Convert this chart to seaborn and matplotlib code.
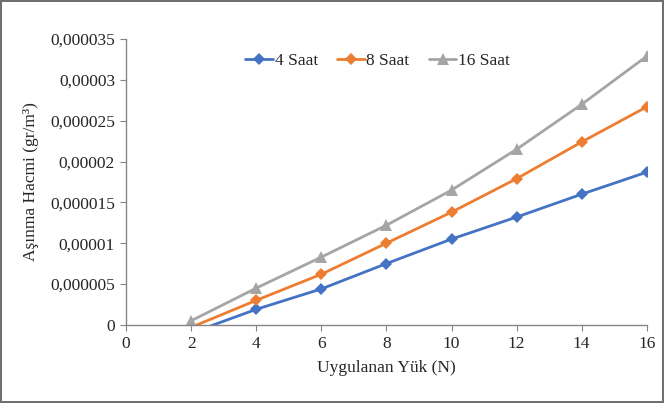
import pandas as pd
import seaborn as sns
import matplotlib.pyplot as plt

sns.set_style("ticks")
plt.rcParams['font.family'] = ['Liberation Serif', 'DejaVu Serif']

# data (wear volume, gr/m3)
loads = [2, 4, 6, 8, 10, 12, 14, 16]
saat_4 = [-1.0e-6, 1.9e-6, 4.4e-6, 7.5e-6, 10.5e-6, 13.2e-6, 16.0e-6, 18.7e-6]
saat_8 = [-0.3e-6, 3.0e-6, 6.2e-6, 10.0e-6, 13.8e-6, 17.9e-6, 22.4e-6, 26.7e-6]
saat_16 = [0.5e-6, 4.5e-6, 8.3e-6, 12.2e-6, 16.5e-6, 21.5e-6, 27.0e-6, 32.9e-6]
series_names = ['4 Saat', '8 Saat', '16 Saat']

x_ticks = [0, 2, 4, 6, 8, 10, 12, 14, 16]
y_ticks = [0, 5e-6, 10e-6, 15e-6, 20e-6, 25e-6, 30e-6, 35e-6]
y_tick_labels = ['0', '0,000005', '0,00001', '0,000015', '0,00002',
                 '0,000025', '0,00003', '0,000035']

df = pd.DataFrame({
    'Yuk': loads * 3,
    'Hacim': saat_4 + saat_8 + saat_16,
    'Seri': [series_names[0]] * 8 + [series_names[1]] * 8 + [series_names[2]] * 8,
})

colors = {'4 Saat': '#4472C4', '8 Saat': '#ED7D31', '16 Saat': '#A5A5A5'}
markers = {'4 Saat': 'D', '8 Saat': 'D', '16 Saat': '^'}
fs = 12.5

fig = plt.figure(figsize=(6.64, 4.03), dpi=100)
fig.patch.set_edgecolor('#6f6f6f')
fig.patch.set_linewidth(1.5)
ax = fig.add_axes([0.19, 0.194, 0.784, 0.709])

sns.lineplot(data=df, x='Yuk', y='Hacim', hue='Seri', style='Seri',
             palette=colors, markers=markers, dashes=False,
             markersize=6, markeredgewidth=0, lw=2, ax=ax)
for line in ax.lines:
    if line.get_marker() == '^':
        line.set_markersize(9)

ax.set_xlim(0, 16)
ax.set_ylim(0, 35e-6)
ax.set_xticks(x_ticks)
ax.set_xticklabels([str(t) for t in x_ticks])
ax.set_yticks(y_ticks)
ax.set_yticklabels(y_tick_labels)
ax.tick_params(labelsize=fs, color='#868686', length=4, pad=4)
for s in ['top', 'right']:
    ax.spines[s].set_visible(False)
for s in ['left', 'bottom']:
    ax.spines[s].set_color('#868686')
    ax.spines[s].set_linewidth(1)

ax.set_xlabel('Uygulanan Yük (N)', fontsize=fs, labelpad=6)
ax.set_ylabel('Aşınma Hacmi (gr/m³)', fontsize=fs, labelpad=8)

leg = ax.legend(loc='upper center', bbox_to_anchor=(0.483, 1.005), ncol=3,
                frameon=False, fontsize=fs, handlelength=1.6, columnspacing=1.1,
                handletextpad=0.1)
for h in leg.legend_handles:
    if h.get_marker() == '^':
        h.set_markersize(9)

fig.savefig('out.png', dpi=100, edgecolor=fig.get_edgecolor())
